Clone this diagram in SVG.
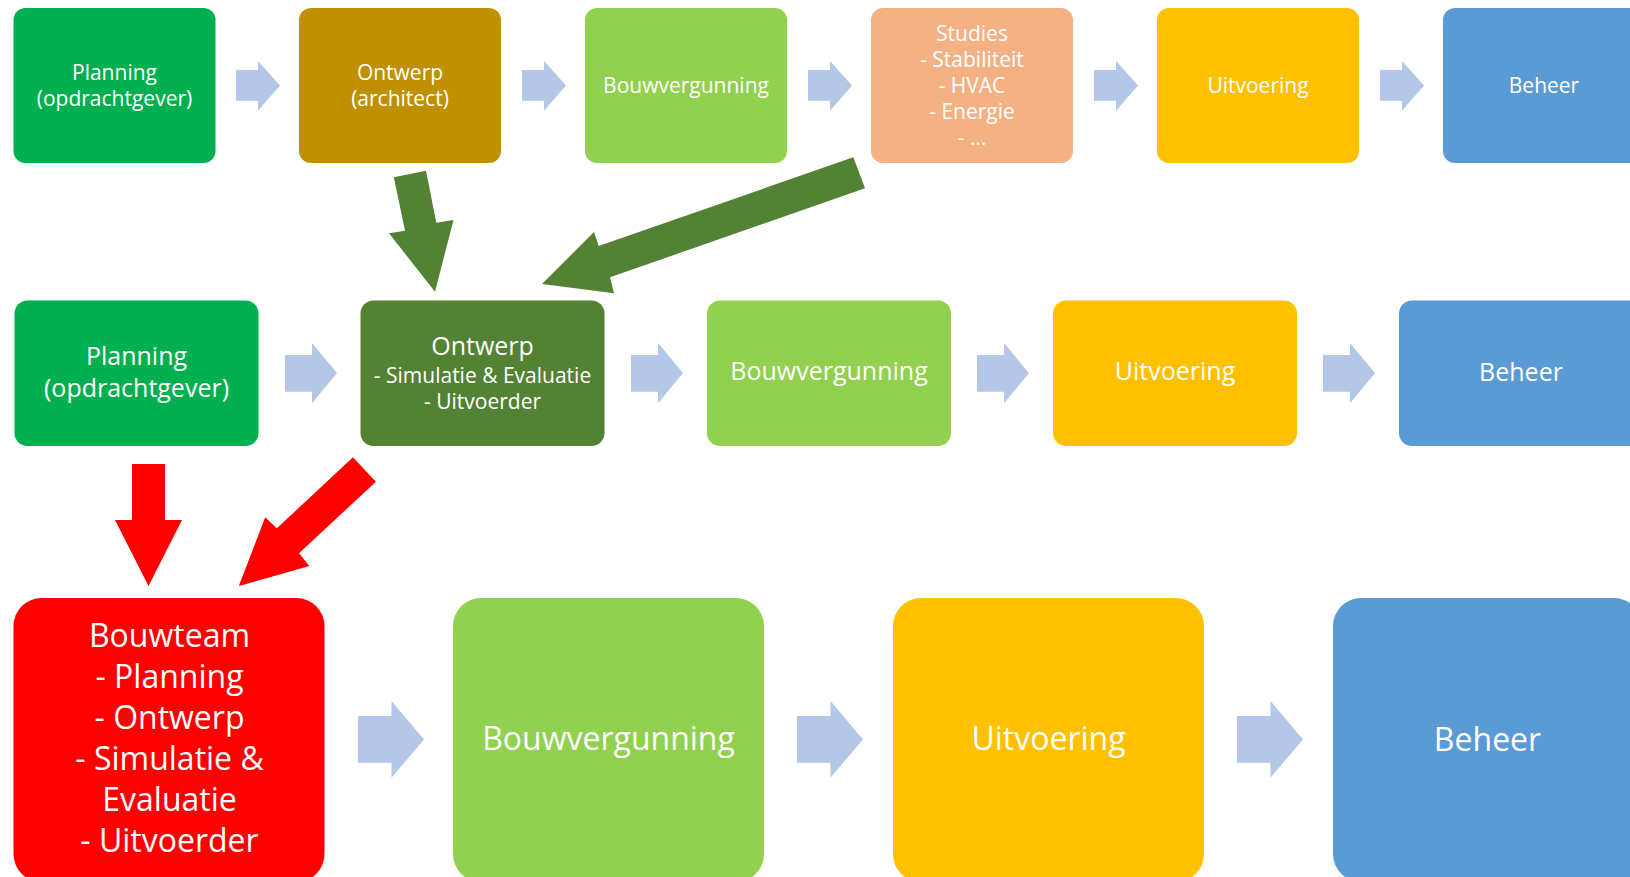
<svg xmlns="http://www.w3.org/2000/svg" width="1630" height="877" viewBox="0 0 1630 877">
<style>
text{font-family:"Open Sans","Noto Sans",sans-serif;fill:#ffffff;text-anchor:middle}
.t1{font-size:21px}
.t2{font-size:25px}
.t2s{font-size:21px}
.t3{font-size:32px}
.flow{fill:#B4C7E7}
.garr{fill:#548235}
.rarr{fill:#FF0000}
</style>
<rect width="1630" height="877" fill="#ffffff"/>

<g id="connectors">
  <!-- row 1 flow arrows -->
  <polygon class="flow" points="236,70 258,70 258,61 280,85.5 258,110.7 258,100.7 236,100.7"/>
  <polygon class="flow" points="522,70 544,70 544,61 566,85.5 544,110.7 544,100.7 522,100.7"/>
  <polygon class="flow" points="808,70 830,70 830,61 852,85.5 830,110.7 830,100.7 808,100.7"/>
  <polygon class="flow" points="1094,70 1116,70 1116,61 1138,85.5 1116,110.7 1116,100.7 1094,100.7"/>
  <polygon class="flow" points="1380,70 1402,70 1402,61 1424,85.5 1402,110.7 1402,100.7 1380,100.7"/>
  <!-- row 2 flow arrows -->
  <polygon class="flow" points="285,355 312,355 312,343 337,373 312,403.3 312,391.7 285,391.7"/>
  <polygon class="flow" points="631,355 658,355 658,343 683,373 658,403.3 658,391.7 631,391.7"/>
  <polygon class="flow" points="977,355 1004,355 1004,343 1029,373 1004,403.3 1004,391.7 977,391.7"/>
  <polygon class="flow" points="1323,355 1350,355 1350,343 1375,373 1350,403.3 1350,391.7 1323,391.7"/>
  <!-- row 3 flow arrows -->
  <polygon class="flow" points="358,716 391.5,716 391.5,701 424,739.5 391.5,777.7 391.5,762.7 358,762.7"/>
  <polygon class="flow" points="797,716 830.5,716 830.5,701 863,739.5 830.5,777.7 830.5,762.7 797,762.7"/>
  <polygon class="flow" points="1237,716 1270.5,716 1270.5,701 1303,739.5 1270.5,777.7 1270.5,762.7 1237,762.7"/>
  <!-- green arrows -->
  <polygon class="garr" points="393.8,177.3 426,170.7 436.3,222.7 453.5,220 435,291.7 389,233.3 405,230.7"/>
  <polygon class="garr" points="853.3,157.3 865,188.3 610,277.3 614,293.3 542,284 594,232 598.7,246"/>
  <!-- red arrows -->
  <polygon class="rarr" points="132,464 165,464 165,520 182,520 148.5,586 115,520 132,520"/>
  <polygon class="rarr" points="353,457.3 375.9,481.7 299,553.3 309.4,566 238.8,586 265.2,517.3 276.8,528.3"/>
</g>

<!-- Row 1 -->
<g id="r1-planning">
  <rect x="13.5" y="8" width="202" height="155" rx="12" fill="#00B050"/>
  <text class="t1" x="114.5" y="80">Planning</text>
  <text class="t1" x="114.5" y="106">(opdrachtgever)</text>
</g>
<g id="r1-ontwerp">
  <rect x="299" y="8" width="202" height="155" rx="12" fill="#BF9000"/>
  <text class="t1" x="400" y="80">Ontwerp</text>
  <text class="t1" x="400" y="106">(architect)</text>
</g>
<g id="r1-bouwvergunning">
  <rect x="585" y="8" width="202" height="155" rx="12" fill="#92D050"/>
  <text class="t1" x="686" y="92.5">Bouwvergunning</text>
</g>
<g id="r1-studies">
  <rect x="871" y="8" width="202" height="155" rx="12" fill="#F4B183"/>
  <text class="t1" x="972" y="40.5">Studies</text>
  <text class="t1" x="972" y="66.5">- Stabiliteit</text>
  <text class="t1" x="972" y="92.5">- HVAC</text>
  <text class="t1" x="972" y="118.5">- Energie</text>
  <text class="t1" x="972" y="144.5">- …</text>
</g>
<g id="r1-uitvoering">
  <rect x="1157" y="8" width="202" height="155" rx="12" fill="#FFC000"/>
  <text class="t1" x="1258" y="92.5">Uitvoering</text>
</g>
<g id="r1-beheer">
  <rect x="1443" y="8" width="202" height="155" rx="12" fill="#5B9BD5"/>
  <text class="t1" x="1544" y="92.5">Beheer</text>
</g>

<!-- Row 2 -->
<g id="r2-planning">
  <rect x="14.5" y="300.5" width="244" height="145.5" rx="13" fill="#00B050"/>
  <text class="t2" x="136.5" y="365">Planning</text>
  <text class="t2" x="136.5" y="397">(opdrachtgever)</text>
</g>
<g id="r2-ontwerp">
  <rect x="360.5" y="300.5" width="244" height="145.5" rx="13" fill="#548235"/>
  <text class="t2" x="482.5" y="355">Ontwerp</text>
  <text class="t2s" x="482.5" y="383">- Simulatie &amp; Evaluatie</text>
  <text class="t2s" x="482.5" y="409">- Uitvoerder</text>
</g>
<g id="r2-bouwvergunning">
  <rect x="707" y="300.5" width="244" height="145.5" rx="13" fill="#92D050"/>
  <text class="t2" x="829" y="380">Bouwvergunning</text>
</g>
<g id="r2-uitvoering">
  <rect x="1053" y="300.5" width="244" height="145.5" rx="13" fill="#FFC000"/>
  <text class="t2" x="1175" y="380">Uitvoering</text>
</g>
<g id="r2-beheer">
  <rect x="1399" y="300.5" width="244" height="145.5" rx="13" fill="#5B9BD5"/>
  <text class="t2" x="1521" y="380.5">Beheer</text>
</g>

<!-- Row 3 -->
<g id="r3-bouwteam">
  <rect x="13.5" y="598" width="311" height="284" rx="28" fill="#FF0000"/>
  <text class="t3" x="169.5" y="647">Bouwteam</text>
  <text class="t3" x="169.5" y="688">- Planning</text>
  <text class="t3" x="169.5" y="728.5">- Ontwerp</text>
  <text class="t3" x="169.5" y="769.5">- Simulatie &amp;</text>
  <text class="t3" x="169.5" y="810.5">Evaluatie</text>
  <text class="t3" x="169.5" y="851.5">- Uitvoerder</text>
</g>
<g id="r3-bouwvergunning">
  <rect x="453" y="598" width="311" height="284" rx="28" fill="#92D050"/>
  <text class="t3" x="608.5" y="750">Bouwvergunning</text>
</g>
<g id="r3-uitvoering">
  <rect x="893" y="598" width="311" height="284" rx="28" fill="#FFC000"/>
  <text class="t3" x="1048.5" y="750">Uitvoering</text>
</g>
<g id="r3-beheer">
  <rect x="1333" y="598" width="309" height="284" rx="28" fill="#5B9BD5"/>
  <text class="t3" x="1487.5" y="750.5">Beheer</text>
</g>
</svg>
